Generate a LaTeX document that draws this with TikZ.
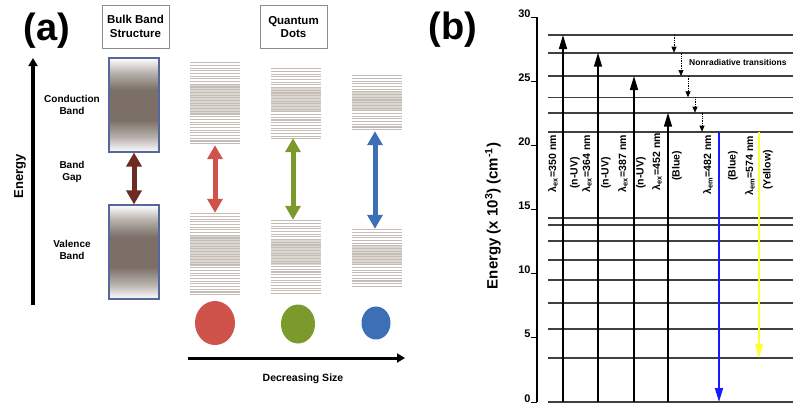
\documentclass[tikz,border=0pt]{standalone}
\usepackage{fontspec}
\setmainfont{Liberation Sans}
\usetikzlibrary{arrows.meta, positioning, calc, shapes.geometric}

\definecolor{bulkgray}{HTML}{7B6F67}
\definecolor{bulkedge}{HTML}{56679C}
\definecolor{gapbrown}{HTML}{6E2B22}
\definecolor{qdred}{HTML}{CF524B}
\definecolor{qdgreen}{HTML}{7C9A2C}
\definecolor{qdblue}{HTML}{3D6FB6}
\definecolor{stackline}{HTML}{C4BDB6}
\definecolor{stackband}{HTML}{DDD7D1}
\definecolor{emblue}{HTML}{1A1AFF}
\definecolor{emyellow}{HTML}{FFFF33}

\pgfdeclareverticalshading{bulkshade}{100bp}{color(0bp)=(white); color(25bp)=(white); color(33bp)=(bulkgray!55); color(42bp)=(bulkgray); color(58bp)=(bulkgray); color(67bp)=(bulkgray!55); color(75bp)=(white); color(100bp)=(white)}

\begin{document}
\begin{tikzpicture}[
  x=1pt, y=-1pt,
  panel/.style = {font=\bfseries\fontsize{38}{40}\selectfont, inner sep=0pt},
  titlebox/.style = {draw=black!45, line width=0.6pt, align=center, minimum width=67pt, minimum height=43pt, font=\bfseries\fontsize{11.5}{13.5}\selectfont},
  sidelabel/.style = {align=center, font=\bfseries\fontsize{10}{12.5}\selectfont},
  bulkbox/.style = {draw=bulkedge, line width=1.1pt, minimum width=50pt, inner sep=0pt, shading=bulkshade},
  qdstack/.style = {fill=white, inner sep=0pt, minimum width=50pt, path picture={
      \fill[stackband] ($(path picture bounding box.north west)!0.28!(path picture bounding box.south west)$) rectangle ($(path picture bounding box.north east)!0.62!(path picture bounding box.south east)$);
      \foreach \k in {0,...,40}
        \draw[stackline, line width=1.1pt] ([yshift=-\k*2.7pt-0.7pt]path picture bounding box.north west) -- ([yshift=-\k*2.7pt-0.7pt]path picture bounding box.north east);
    }},
  gaparrow/.style = {line width=5pt, {Triangle[width=15pt,length=14pt]}-{Triangle[width=15pt,length=14pt]}},
  dot/.style = {ellipse, inner sep=0pt},
  bigarrow/.style = {line width=3.2pt, -{Triangle[width=9pt,length=8pt]}},
  level/.style = {line width=1.6pt, black!75},
  exarrow/.style = {line width=1.5pt, -{Triangle[width=8pt,length=14pt]}},
  emarrow/.style = {line width=1.8pt, -{Triangle[width=8pt,length=14pt]}},
  nrarrow/.style = {densely dotted, line width=0.7pt, -{Triangle[width=5pt,length=6pt]}},
  vlabel/.style = {rotate=90, inner sep=0pt, font=\bfseries\fontsize{10.5}{12}\selectfont},
  ticklabel/.style = {inner sep=0pt, font=\bfseries\fontsize{11}{12}\selectfont}
]
\useasboundingbox (0,0) rectangle (801,413);

% ======================================================
% (a) Bulk band structure vs quantum dots
% ======================================================
\node[panel] (pa) at (47,31) {(a)};
\node[titlebox] (bulktitle) at (135.5,26.5) {Bulk Band\\Structure};
\node[titlebox] (qdtitle) at (293.5,27) {Quantum\\Dots};

% Energy axis
\coordinate (ebot) at (33,305);
\coordinate (etop) at (33,58);
\draw[bigarrow] (ebot) -- (etop);
\node[rotate=90, font=\bfseries\fontsize{13}{14}\selectfont] (energy) at (20,176) {Energy};

\node[sidelabel] (cblabel) at (72,105) {Conduction\\Band};
\node[sidelabel] (gaplabel) at (72,172) {Band\\Gap};
\node[sidelabel] (vblabel) at (72,250) {Valence\\Band};

% bulk bands
\node[bulkbox, minimum height=94pt] (cb0) at (134,105) {};
\node[bulkbox, minimum height=94pt] (vb0) at (134,252) {};
\draw[gaparrow, gapbrown] (cb0.south) -- (vb0.north);

% quantum dot levels
\node[qdstack, minimum height=83pt] (cb1) at (215,103.5) {};
\node[qdstack, minimum height=83pt] (vb1) at (215,254.5) {};
\node[qdstack, minimum height=70pt] (cb2) at (296,103) {};
\node[qdstack, minimum height=73pt] (vb2) at (296,256.5) {};
\node[qdstack, minimum height=56pt] (cb3) at (377,103) {};
\node[qdstack, minimum height=57pt] (vb3) at (377,257.5) {};

\draw[gaparrow, qdred] (cb1.south) -- (vb1.north);
\draw[gaparrow, qdgreen] ([xshift=-3pt]cb2.south) -- ([xshift=-3pt]vb2.north);
\draw[gaparrow, qdblue] ([xshift=-2pt]cb3.south) -- ([xshift=-2pt]vb3.north);

% dots
\node[dot, fill=qdred, minimum width=40pt, minimum height=44pt] (dot1) at (215,323) {};
\node[dot, fill=qdgreen, minimum width=34pt, minimum height=39pt] (dot2) at (298,324) {};
\node[dot, fill=qdblue, minimum width=29pt, minimum height=33pt] (dot3) at (376,323) {};

\coordinate (dstart) at (188,358);
\coordinate (dend) at (405,358);
\draw[bigarrow, line width=3pt] (dstart) -- (dend);
\node[font=\bfseries\fontsize{10.5}{12}\selectfont] (decr) at (303,379) {Decreasing Size};

% ======================================================
% (b) Energy level diagram
% ======================================================
\node[panel] (pb) at (453,30) {(b)};

% axis with ticks
\coordinate (atop) at (537,17);
\coordinate (abot) at (537,402);
\draw[line width=1.2pt] (atop) -- (abot);
\foreach \v in {0,5,...,30} {
  \coordinate (tk\v) at (537,{402-\v*12.833});
  \draw[line width=1pt] (tk\v) -- ++(-6,0) node[ticklabel, anchor=base east] {\v};
}
\node[rotate=90, font=\bfseries\fontsize{15}{16}\selectfont] (ylabel) at (493,216) {Energy (x 10\textsuperscript{3}) (cm\textsuperscript{-1})};

% levels
\foreach \yy [count=\i] in {35,52.7,76,97.3,112.7,131.7,218,225,241,260,280,303,329,358,402} {
  \coordinate (lv\i) at (548,\yy);
  \coordinate (lvr\i) at (793,\yy);
  \draw[level] (lv\i) -- (lvr\i);
}

% excitation
\coordinate (c1) at (563,0);
\coordinate (c2) at (598,0);
\coordinate (c3) at (634,0);
\coordinate (c4) at (668,0);
\draw[exarrow] (c1 |- lv15) -- (c1 |- lv1);
\draw[exarrow] (c2 |- lv15) -- (c2 |- lv2);
\draw[exarrow] (c3 |- lv15) -- (c3 |- lv3);
\draw[exarrow] (c4 |- lv15) -- (c4 |- lv5);

% emission
\coordinate (c5) at (719,0);
\coordinate (c6) at (759,0);
\draw[emarrow, emblue] (c5 |- lv6) -- (c5 |- lv15);
\draw[emarrow, emyellow] (c6 |- lv6) -- (c6 |- lv14);

% nonradiative
\coordinate (n1) at (674,0);
\coordinate (n2) at (681,0);
\coordinate (n3) at (688,0);
\coordinate (n4) at (695,0);
\coordinate (n5) at (702,0);
\draw[nrarrow] (n1 |- lv1) -- (n1 |- lv2);
\draw[nrarrow] (n2 |- lv2) -- (n2 |- lv3);
\draw[nrarrow] (n3 |- lv3) -- (n3 |- lv4);
\draw[nrarrow] (n4 |- lv4) -- (n4 |- lv5);
\draw[nrarrow] (n5 |- lv5) -- (n5 |- lv6);
\node[anchor=west, inner sep=0pt, font=\bfseries\fontsize{8.5}{10}\selectfont] (nrlabel) at (689,62) {Nonradiative transitions};

% transition labels
\node[vlabel, anchor=east] (l1) at (553,135) {λ\textsubscript{ex}=350 nm};
\node[vlabel] (p1) at (575,173) {(n-UV)};
\node[vlabel, anchor=east] (l2) at (587,135) {λ\textsubscript{ex}=364 nm};
\node[vlabel] (p2) at (606,173) {(n-UV)};
\node[vlabel, anchor=east] (l3) at (623,135) {λ\textsubscript{ex}=387 nm};
\node[vlabel] (p3) at (641,173) {(n-UV)};
\node[vlabel, anchor=east] (l4) at (657,133) {λ\textsubscript{ex}=452 nm};
\node[vlabel] (p4) at (677,166) {(Blue)};
\node[vlabel, anchor=east] (l5) at (708,135) {λ\textsubscript{em}=482 nm};
\node[vlabel] (p5) at (733,166) {(Blue)};
\node[vlabel, anchor=east] (l6) at (750,136) {λ\textsubscript{em}=574 nm};
\node[vlabel] (p6) at (768,170) {(Yellow)};
\end{tikzpicture}
\end{document}
